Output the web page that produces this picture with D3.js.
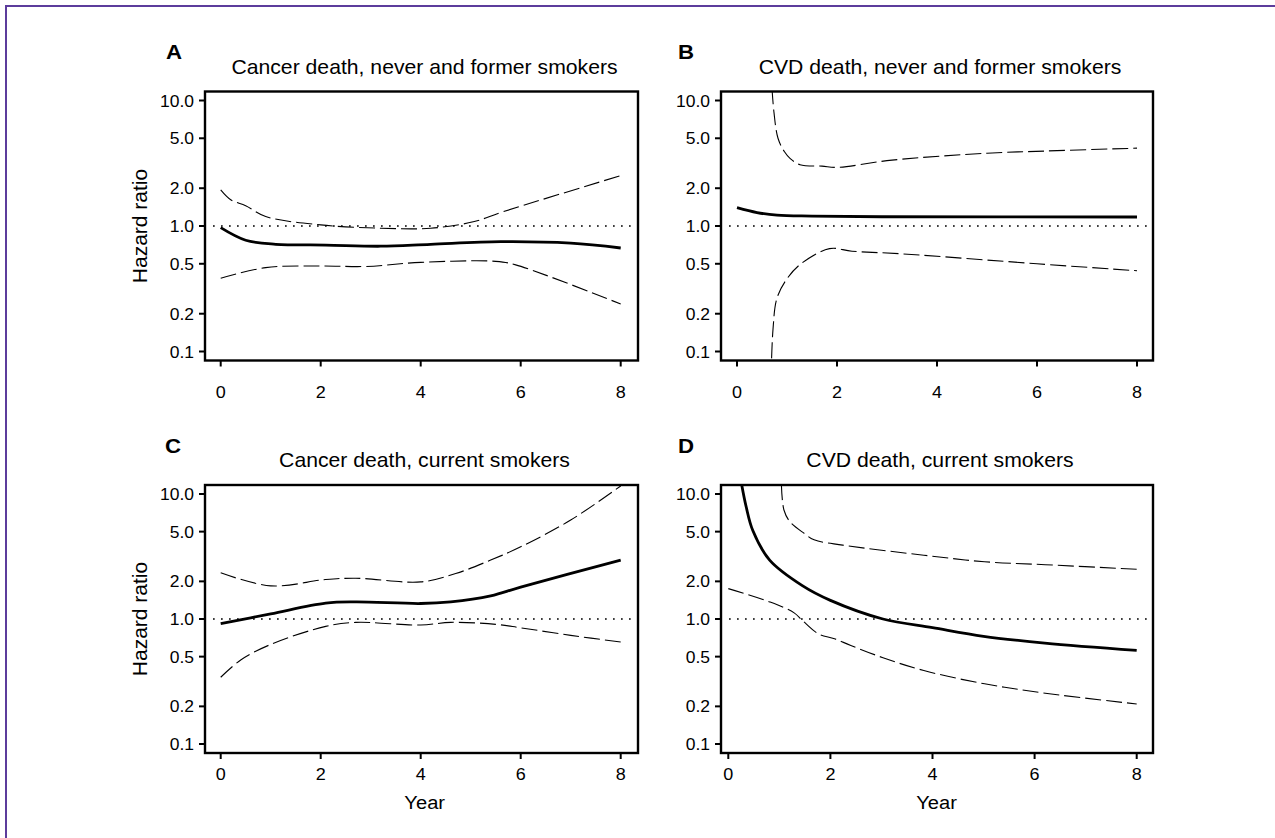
<!DOCTYPE html>
<html><head><meta charset="utf-8">
<script src="https://cdn.jsdelivr.net/npm/d3@7"></script>
<style>body{margin:0;background:#fff} svg{display:block}</style>
</head><body>
<script>
// ---- tick labels / categories ----
const yearTicks = [0, 2, 4, 6, 8];
const hrTicks = [0.1, 0.2, 0.5, 1, 2, 5, 10];
const hrTickLabels = ["0.1", "0.2", "0.5", "1.0", "2.0", "5.0", "10.0"];
const panelLetters = ["A", "B", "C", "D"];
const panelTitles = [
  "Cancer death, never and former smokers",
  "CVD death, never and former smokers",
  "Cancer death, current smokers",
  "CVD death, current smokers"
];

// ---- Panel A: cancer death, never/former smokers ----
const aEstT = [0, 0.5, 1.1, 2.1, 3.2, 4.2, 5.6, 7.0, 8];
const aEst = [0.97, 0.77, 0.715, 0.705, 0.69, 0.715, 0.75, 0.73, 0.668];
const aUpT = [0, 0.2, 0.5, 0.9, 2.0, 3.2, 4.2, 5.05, 5.65, 8];
const aUp = [1.94, 1.62, 1.45, 1.19, 1.02, 0.96, 0.96, 1.08, 1.30, 2.52];
const aLoT = [0, 0.9, 2.0, 2.9, 4.0, 5.5, 5.9, 8];
const aLo = [0.383, 0.466, 0.48, 0.476, 0.513, 0.523, 0.49, 0.239];

// ---- Panel B: CVD death, never/former smokers ----
const bEstT = [0, 0.4, 0.8, 1.5, 2.9, 8];
const bEst = [1.40, 1.28, 1.22, 1.20, 1.185, 1.18];
const bUpT = [0.70, 0.74, 0.82, 0.95, 1.06, 1.26, 1.7, 2.0, 3.1, 5.0, 6.2, 8];
const bUp = [12.5, 8.0, 5.0, 3.9, 3.46, 3.08, 3.0, 2.93, 3.35, 3.8, 3.96, 4.17];
const bLoT = [0.68, 0.72, 0.80, 1.0, 1.28, 1.85, 2.3, 3.3, 6.0, 8];
const bLo = [0.06, 0.15, 0.267, 0.38, 0.5, 0.66, 0.63, 0.6, 0.5, 0.44];

// ---- Panel C: cancer death, current smokers ----
const cEstT = [0, 1.0, 2.1, 2.7, 4.0, 4.6, 5.4, 6.0, 8];
const cEst = [0.917, 1.10, 1.34, 1.37, 1.33, 1.37, 1.53, 1.8, 2.96];
const cUpT = [0, 1.0, 2.1, 2.7, 4.0, 4.7, 5.4, 6.0, 7.0, 8];
const cUp = [2.34, 1.84, 2.07, 2.12, 1.98, 2.31, 2.96, 3.78, 6.19, 11.6];
const cLoT = [0, 0.4, 1.0, 2.1, 2.7, 4.0, 4.6, 5.5, 6.0, 7.0, 8];
const cLo = [0.342, 0.47, 0.626, 0.873, 0.94, 0.895, 0.94, 0.906, 0.85, 0.74, 0.654];

// ---- Panel D: CVD death, current smokers ----
const dEstT = [0.26, 0.35, 0.48, 0.81, 1.45, 2.0, 3.03, 4.0, 5.0, 6.2, 8];
const dEst = [12, 7.9, 5.1, 2.96, 1.85, 1.41, 1.0, 0.852, 0.726, 0.642, 0.561];
const dUpT = [1.04, 1.09, 1.21, 1.49, 1.68, 2.24, 3.83, 5.02, 6.21, 8];
const dUp = [12, 7.45, 5.98, 4.83, 4.3, 3.9, 3.24, 2.87, 2.72, 2.5];
const dLoT = [0, 0.81, 1.29, 1.45, 1.76, 2.08, 2.4, 3.03, 3.83, 5.02, 6.21, 8];
const dLo = [1.75, 1.37, 1.12, 0.975, 0.763, 0.695, 0.614, 0.49, 0.387, 0.303, 0.255, 0.209];

const zip = (t, v) => t.map((d, i) => [d, v[i]]);
const panelData = [
  {est: zip(aEstT, aEst), up: zip(aUpT, aUp), lo: zip(aLoT, aLo)},
  {est: zip(bEstT, bEst), up: zip(bUpT, bUp), lo: zip(bLoT, bLo)},
  {est: zip(cEstT, cEst), up: zip(cUpT, cUp), lo: zip(cLoT, cLo)},
  {est: zip(dEstT, dEst), up: zip(dUpT, dUp), lo: zip(dLoT, dLo)}
];

// ---- layout ----
const W = 1275, H = 838;
const FONT = "'Liberation Sans', Arial, Helvetica, sans-serif";
const SX = 1.06;
const layout = [
  {l: 205, r: 638, t: 91.5, b: 360.5, x0: 220.7, x8: 620.7, y10: 100.5, y01: 351.5, lx: 166, xtl: 398, ylab: true, xlab: false},
  {l: 721, r: 1153, t: 91.5, b: 360.5, x0: 737, x8: 1137, y10: 100.5, y01: 351.5, lx: 678, xtl: 398, ylab: false, xlab: false},
  {l: 205, r: 638, t: 485, b: 753, x0: 220.7, x8: 620.7, y10: 494, y01: 744, lx: 165, xtl: 780, ylab: true, xlab: true},
  {l: 721, r: 1153, t: 485, b: 753, x0: 728.3, x8: 1136.7, y10: 494, y01: 744, lx: 678, xtl: 780, ylab: false, xlab: true}
];

const svg = d3.select("body").append("svg").attr("width", W).attr("height", H);
svg.append("rect").attr("width", W).attr("height", H).attr("fill", "#fff");

// purple frame (left and top edges visible)
svg.append("path").attr("d", `M6,${H+5} V6 H${W+5}`)
  .attr("fill", "none").attr("stroke", "#5c3c9c").attr("stroke-width", 2);

function stext(g, x, y, s, size, anchor, weight) {
  return g.append("text")
    .attr("transform", `translate(${x},${y}) scale(${SX},1)`)
    .attr("text-anchor", anchor || "middle")
    .attr("font-family", FONT)
    .attr("font-size", size)
    .attr("font-weight", weight || "normal")
    .attr("fill", "#000")
    .text(s);
}

layout.forEach((L, i) => {
  const g = svg.append("g");
  const x = d3.scaleLinear().domain([0, 8]).range([L.x0, L.x8]);
  const y = d3.scaleLog().domain([0.1, 10]).range([L.y01, L.y10]);

  const clipId = "clip" + i;
  svg.append("clipPath").attr("id", clipId).append("rect")
    .attr("x", L.l).attr("y", L.t).attr("width", L.r - L.l).attr("height", L.b - L.t);

  // y axis ticks
  hrTicks.forEach((v, k) => {
    g.append("line").attr("x1", L.l - 6).attr("x2", L.l).attr("y1", y(v)).attr("y2", y(v))
      .attr("stroke", "#000").attr("stroke-width", 2);
    stext(g, L.l - 11, y(v) + 6, hrTickLabels[k], 16.5, "end");
  });
  // x axis ticks
  yearTicks.forEach(v => {
    g.append("line").attr("x1", x(v)).attr("x2", x(v)).attr("y1", L.b).attr("y2", L.b + 6)
      .attr("stroke", "#000").attr("stroke-width", 2);
    stext(g, x(v), L.xtl, String(v), 17, "middle");
  });

  // reference line HR = 1
  g.append("line").attr("x1", L.l + 8).attr("x2", L.r).attr("y1", y(1)).attr("y2", y(1))
    .attr("stroke", "#000").attr("stroke-width", 1.7).attr("stroke-dasharray", "1.7,6.3");

  const line = d3.line().x(d => x(d[0])).y(d => y(d[1])).curve(d3.curveCatmullRom.alpha(0.5));
  const cg = g.append("g").attr("clip-path", `url(#${clipId})`);
  const D = panelData[i];
  [D.up, D.lo].forEach(arr => {
    cg.append("path").attr("d", line(arr)).attr("fill", "none")
      .attr("stroke", "#000").attr("stroke-width", 1.1).attr("stroke-dasharray", "16,5");
  });
  cg.append("path").attr("d", line(D.est)).attr("fill", "none")
    .attr("stroke", "#000").attr("stroke-width", 2.8);

  // box
  g.append("rect").attr("x", L.l).attr("y", L.t).attr("width", L.r - L.l).attr("height", L.b - L.t)
    .attr("fill", "none").attr("stroke", "#000").attr("stroke-width", 2.4);

  // titles
  stext(g, (L.l + L.r) / 2 + 3, L.t - 18, panelTitles[i], 20, "middle");
  stext(g, L.lx, L.t - 32.5, panelLetters[i], 21, "start", "bold");

  if (L.ylab) {
    g.append("text")
      .attr("transform", `translate(${147},${y(1)}) rotate(-90)`)
      .attr("text-anchor", "middle")
      .attr("font-family", FONT).attr("font-size", 21)
      .text("Hazard ratio");
  }
  if (L.xlab) {
    stext(g, (L.x0 + L.x8) / 2 + 4, L.b + 56, "Year", 19, "middle");
  }
});
</script>
</body></html>
